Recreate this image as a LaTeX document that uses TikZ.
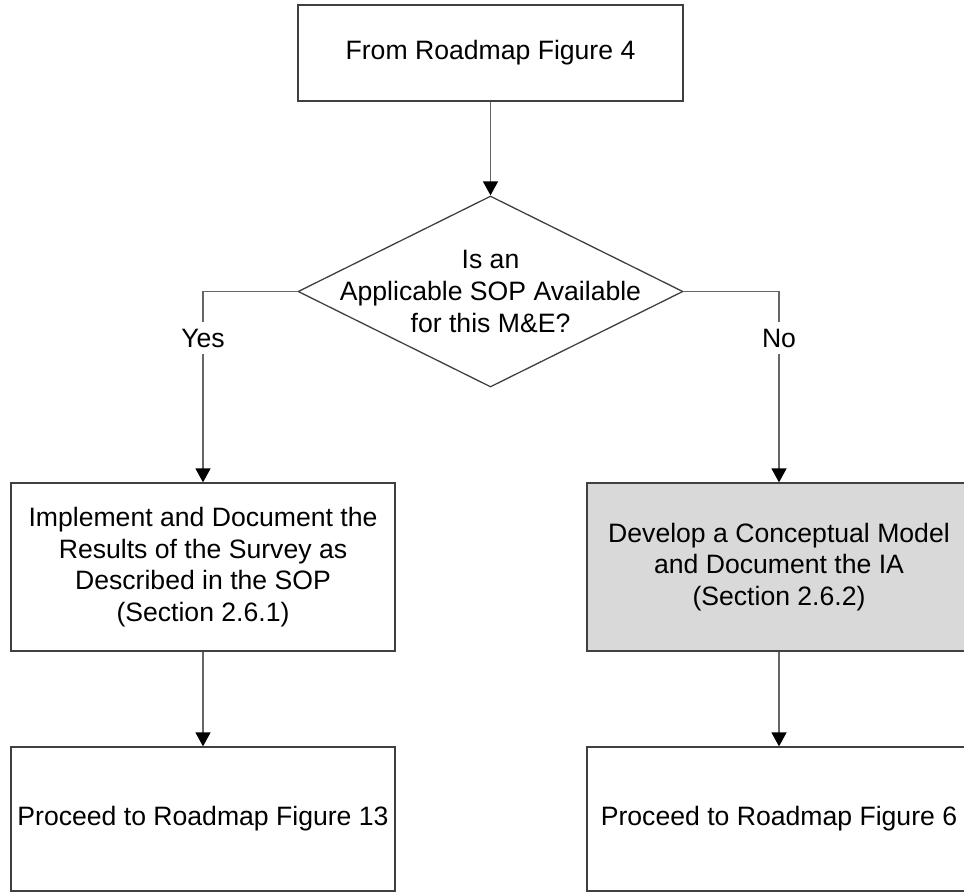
\documentclass[tikz,border=0pt]{standalone}
\usepackage{fontspec}
\setmainfont{Liberation Sans}
\usetikzlibrary{shapes.geometric}
\usetikzlibrary{arrows.meta}
\tikzset{every picture/.style={x=1pt, y=-1pt, font=\fontsize{26.6}{31.7}\selectfont}}
\tikzset{stepbox/.style={
          draw=black!75, line width=1.3pt, inner sep=0pt,
          minimum width=384pt, align=center
          },
        decision/.style={
          diamond, draw=black!75, line width=1.3pt, inner sep=0pt,
          minimum width=385pt, minimum height=191pt
          },
        conn/.style={
          draw=black!60, line width=1.6pt,
          -{Triangle[length=14pt, width=15pt, black]}
          },
        lbl/.style={fill=white, inner xsep=2pt, inner ysep=7pt},
}
\begin{document}
\begin{tikzpicture}
      \useasboundingbox (0,0) rectangle (964,892);
      \clip (0,0) rectangle (964,892);
      % START
      \node[stepbox, minimum width=385pt, minimum height=96pt] (start) at (490.5,53) {From Roadmap Figure 4};

      % DECISION
      \node[decision] (sop) at (490.5,291.5) {};
      \node[align=center] (soptext) at (sop.center) {Is an\\Applicable SOP Available\\for this M\&E?};

      % YES BRANCH
      \node[stepbox, minimum height=168pt] (impl) at (203,567) {Implement and Document the\\Results of the Survey as\\Described in the SOP\\(Section 2.6.1)};
      \node[stepbox, minimum height=144pt] (fig13) at (203,819) {Proceed to Roadmap Figure 13};

      % NO BRANCH
      \node[stepbox, fill=black!15, minimum height=168pt] (model) at (779,567) {Develop a Conceptual Model\\and Document the IA\\(Section 2.6.2)};
      \node[stepbox, minimum height=144pt] (fig6) at (779,819) {Proceed to Roadmap Figure 6};

      % WIRING
      \draw[conn] (start) -- (sop);
      \draw[conn] (sop.west) -| node[lbl, pos=0.622](yes){Yes} (impl);
      \draw[conn] (sop.east) -| node[lbl, pos=0.622](no){No} (model);
      \draw[conn] (impl) -- (fig13);
      \draw[conn] (model) -- (fig6);
\end{tikzpicture}
\end{document}
